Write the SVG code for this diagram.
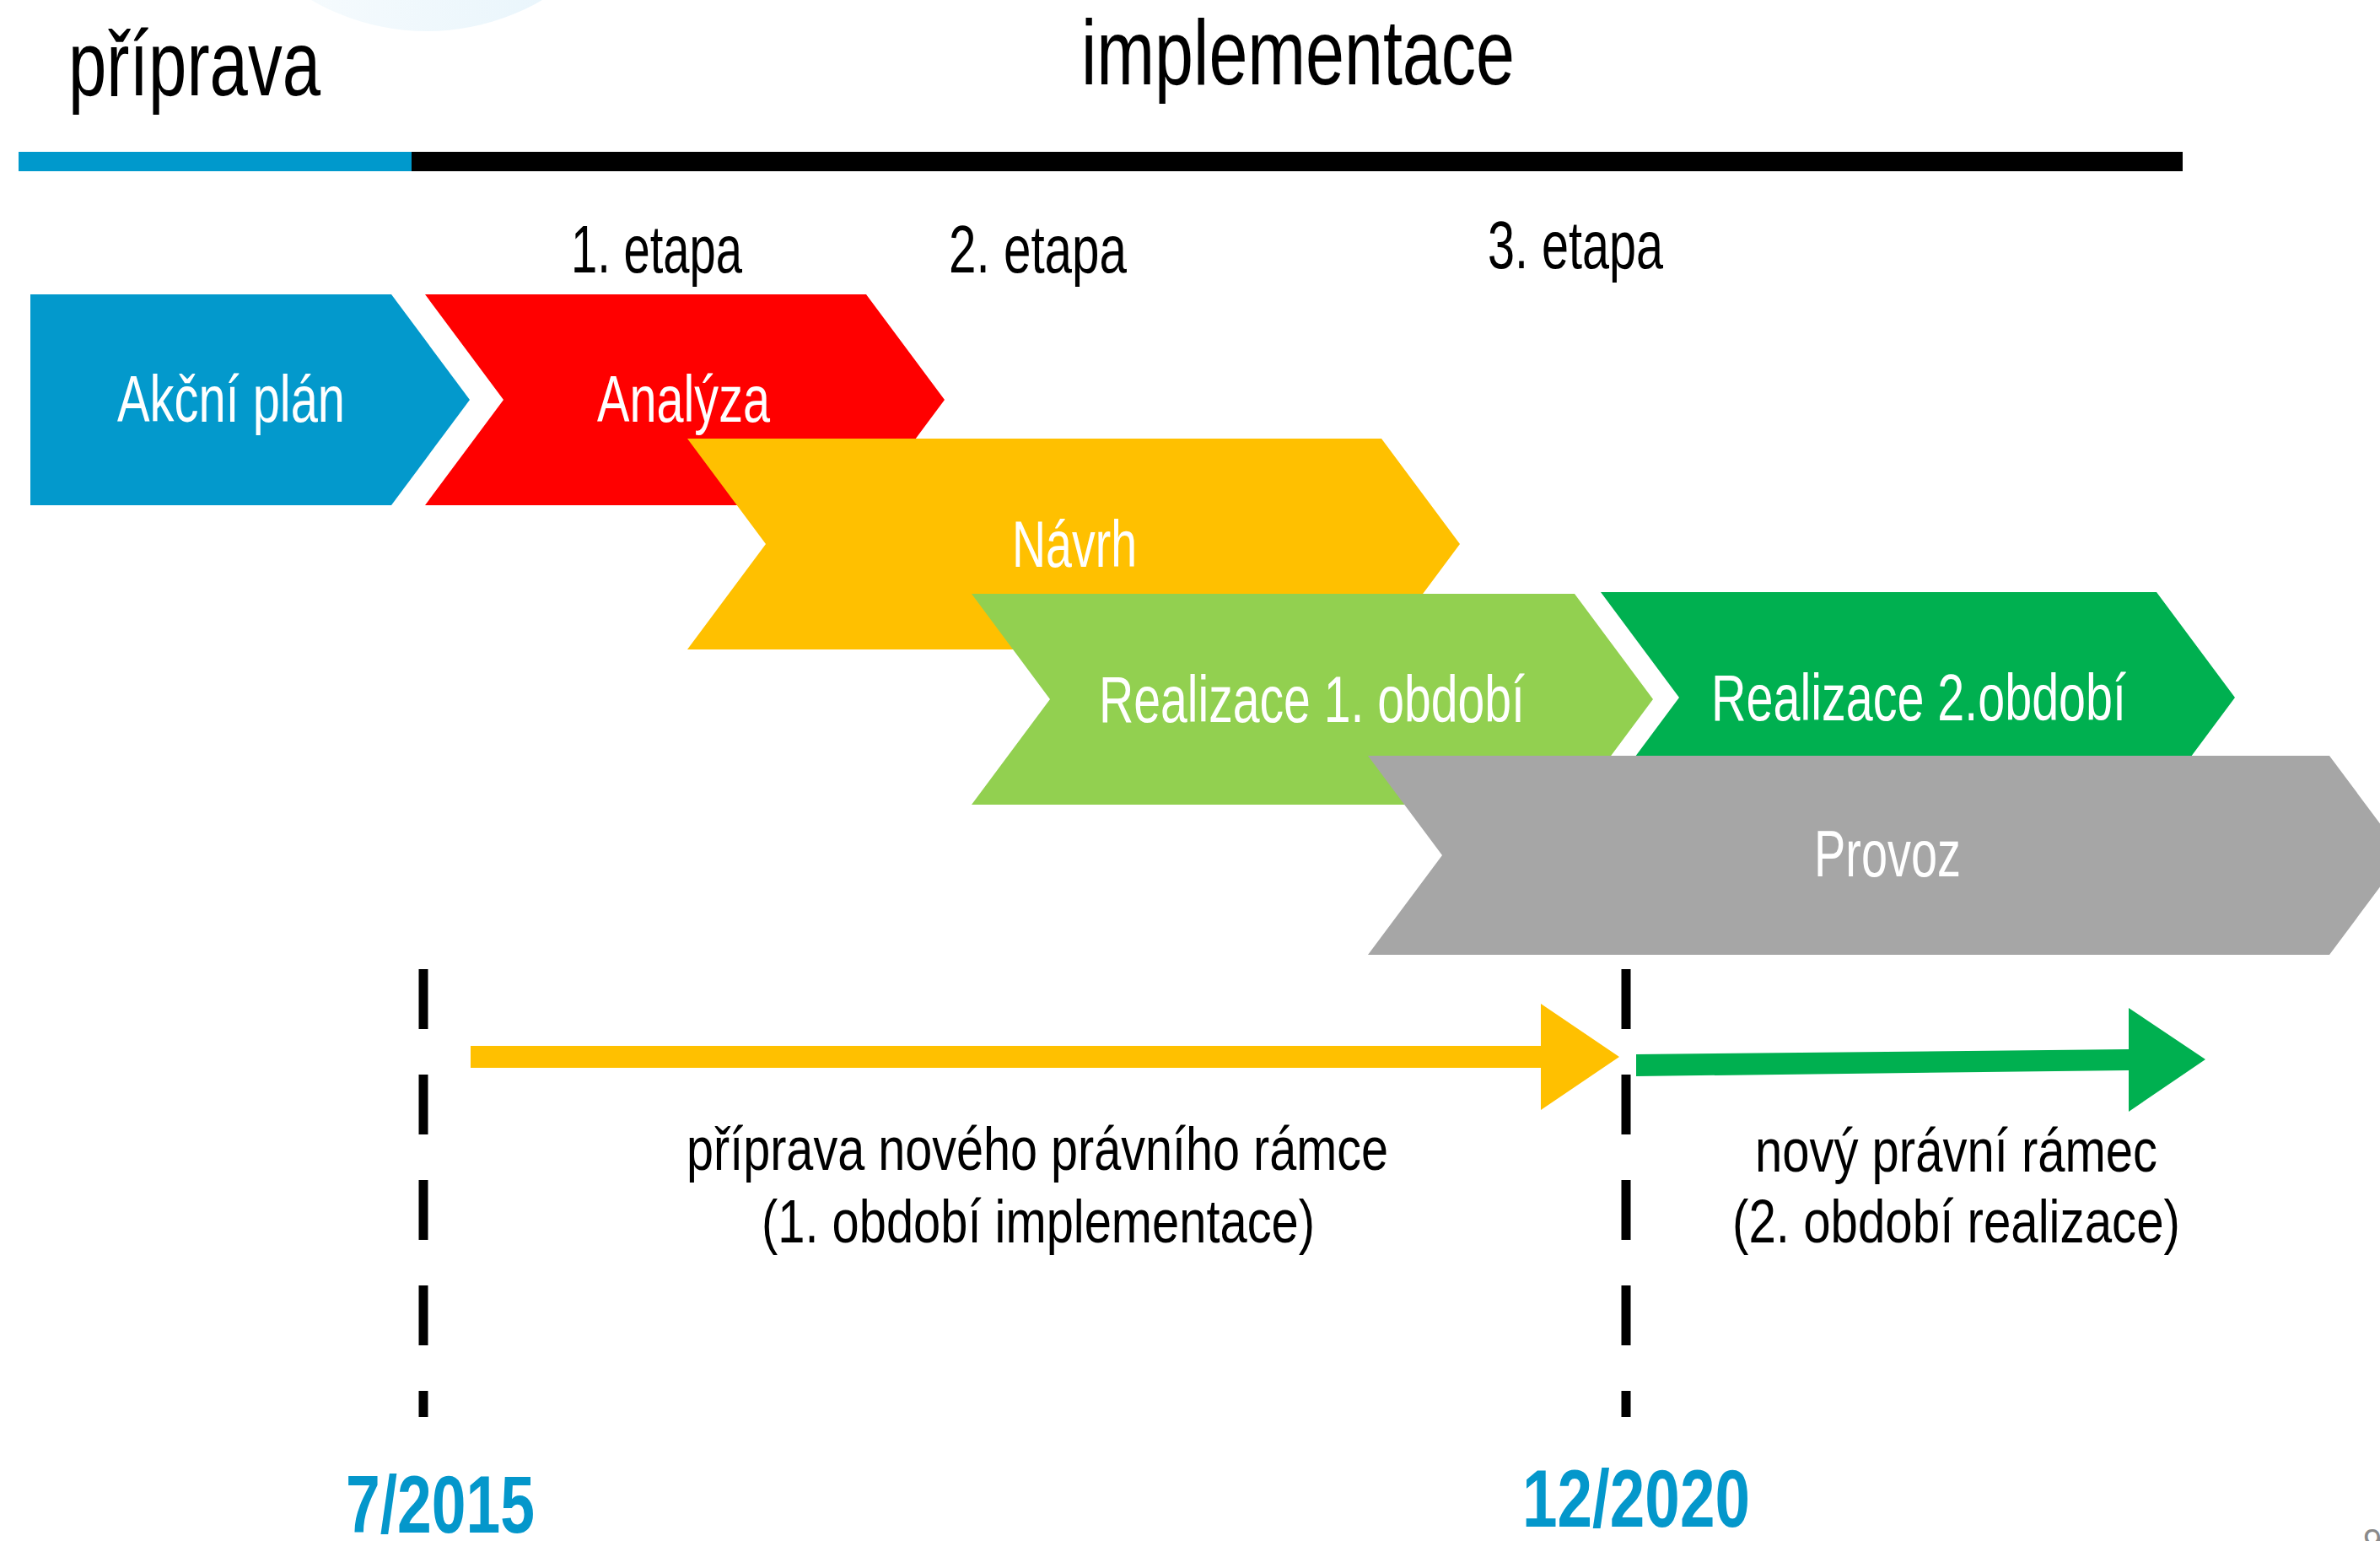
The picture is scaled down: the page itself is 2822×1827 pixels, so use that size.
<svg xmlns="http://www.w3.org/2000/svg" width="2822" height="1827" viewBox="0 0 2822 1827">
  <defs>
    <linearGradient id="bub" x1="0" y1="0" x2="1" y2="0">
      <stop offset="0" stop-color="#fbfdfe"/>
      <stop offset="1" stop-color="#e4f3fb"/>
    </linearGradient>
    <style>
      text { font-family: "Liberation Sans", Arial, sans-serif; }
      .hdr { font-size: 110px; fill: #000; }
      .etapa { font-size: 80px; fill: #000; }
      .lbl { font-size: 77px; fill: #fff; }
      .note { font-size: 72px; fill: #000; }
      .date { font-size: 97px; font-weight: bold; fill: #0497CB; }
      .dash { stroke: #000; stroke-width: 11; stroke-dasharray: 71 54; fill: none; }
    </style>
  </defs>
  <rect width="2822" height="1827" fill="#fff"/>
  <circle cx="506" cy="-235" r="272" fill="url(#bub)"/>

  <g id="header">
    <text class="hdr" x="81" y="113" textLength="299" lengthAdjust="spacingAndGlyphs">příprava</text>
    <text class="hdr" x="1282" y="100" textLength="514" lengthAdjust="spacingAndGlyphs">implementace</text>
    <rect x="22" y="180" width="466" height="23" fill="#0099CC"/>
    <rect x="488" y="180" width="2100" height="23" fill="#000"/>
  </g>

  <g id="etapy">
    <text class="etapa" x="677" y="323" textLength="203" lengthAdjust="spacingAndGlyphs">1. etapa</text>
    <text class="etapa" x="1125" y="323" textLength="211" lengthAdjust="spacingAndGlyphs">2. etapa</text>
    <text class="etapa" x="1764" y="318" textLength="208" lengthAdjust="spacingAndGlyphs">3. etapa</text>
  </g>

  <g id="akcni-plan">
    <polygon points="36,349 464,349 557,474 464,599 36,599" fill="#0399CC"/>
    <text class="lbl" x="139" y="500" textLength="270" lengthAdjust="spacingAndGlyphs">Akční plán</text>
  </g>
  <g id="analyza">
    <polygon points="504,349 1027,349 1120,474 1027,599 504,599 597,474" fill="#FF0000"/>
    <text class="lbl" x="708" y="500" textLength="205" lengthAdjust="spacingAndGlyphs">Analýza</text>
  </g>
  <g id="navrh">
    <polygon points="815,520 1638,520 1731,645 1638,770 815,770 908,645" fill="#FFC000"/>
    <text class="lbl" x="1200" y="672" textLength="148" lengthAdjust="spacingAndGlyphs">Návrh</text>
  </g>
  <g id="realizace-1">
    <polygon points="1152,704 1867,704 1960,829 1867,954 1152,954 1245,829" fill="#92D050"/>
    <text class="lbl" x="1303" y="856" textLength="505" lengthAdjust="spacingAndGlyphs">Realizace 1. období</text>
  </g>
  <g id="realizace-2">
    <polygon points="1898,702 2557,702 2650,827 2557,952 1898,952 1991,827" fill="#00B050"/>
    <text class="lbl" x="2029" y="854" textLength="492" lengthAdjust="spacingAndGlyphs">Realizace 2.období</text>
  </g>
  <g id="provoz">
    <polygon points="1622,896 2762,896 2850,1014 2762,1132 1622,1132 1710,1014" fill="#A6A6A6"/>
    <text class="lbl" x="2151" y="1039" textLength="174" lengthAdjust="spacingAndGlyphs">Provoz</text>
  </g>

  <g id="milestones">
    <line class="dash" x1="502" y1="1149" x2="502" y2="1680"/>
    <line class="dash" x1="1928" y1="1149" x2="1928" y2="1680"/>
    <text class="date" x="410" y="1817" textLength="224" lengthAdjust="spacingAndGlyphs">7/2015</text>
    <text class="date" x="1805" y="1810" textLength="270" lengthAdjust="spacingAndGlyphs">12/2020</text>
  </g>

  <g id="connectors">
    <polygon points="558,1240 1827,1240 1827,1190 1920,1253 1827,1316 1827,1266 558,1266" fill="#FFC000"/>
    <polygon points="1940,1250 2524,1244 2524,1195 2615,1256 2524,1318 2524,1269 1940,1276" fill="#00B050"/>
  </g>

  <g id="period-labels">
    <text class="note" x="814" y="1387" textLength="832" lengthAdjust="spacingAndGlyphs">příprava nového právního rámce</text>
    <text class="note" x="903" y="1473" textLength="656" lengthAdjust="spacingAndGlyphs">(1. období implementace)</text>
    <text class="note" x="2081" y="1389" textLength="477" lengthAdjust="spacingAndGlyphs">nový právní rámec</text>
    <text class="note" x="2054" y="1473" textLength="531" lengthAdjust="spacingAndGlyphs">(2. období realizace)</text>
  </g>

  <text x="2802" y="1841" font-size="40" fill="#8A8A8A">9</text>
</svg>
